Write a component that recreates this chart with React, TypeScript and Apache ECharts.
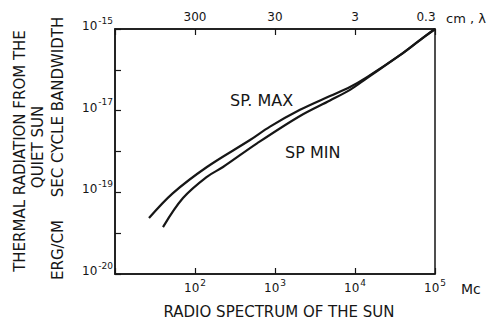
import React, { useEffect, useRef } from "react";
import * as echarts from "echarts";

// Frequency in Mc, thermal radiation in erg/cm^2 sec cycle bandwidth
const maxFreq = [26.6, 53, 141, 487, 866, 2053, 4870, 8660, 14125, 36500, 63000, 100000];
const maxFlux = [2.34e-20, 9.55e-20, 4.17e-19, 1.91e-18, 4.07e-18, 1.05e-17, 2.29e-17, 3.8e-17, 6.61e-17, 2.29e-16, 5.13e-16, 1e-15];

const minFreq = [39.8, 70.8, 141, 224, 596, 2053, 4870, 8660, 14125, 36500, 63000, 100000];
const minFlux = [1.41e-20, 7.24e-20, 2.4e-19, 4.17e-19, 1.58e-18, 7.41e-18, 1.78e-17, 3.24e-17, 6.3e-17, 2.29e-16, 5.13e-16, 1e-15];

const bottomTicks = [100, 1000, 10000, 100000];
const topTickLabels: Record<number, string> = { 100: "300", 1000: "30", 10000: "3", 100000: "0.3" };
const yLabelExps: Record<number, string> = { [-15]: "-15", [-17]: "-17", [-19]: "-19", [-21]: "-20" };

// plotting unit for the y axis (keeps ECharts' log ticks away from float rounding)
const Y_UNIT = 1e-20;

const FONT = "DejaVu Sans";
const INK = "#161616";

export default function App() {
  const ref = useRef<HTMLDivElement>(null);
  useEffect(() => {
    if (!ref.current) return;
    const chart = echarts.init(ref.current, undefined, { renderer: "svg" });
    const sup = {
      b: { fontSize: 12, fontFamily: FONT, color: INK, lineHeight: 12, verticalAlign: "bottom" },
      s: { fontSize: 9, fontFamily: FONT, color: INK, lineHeight: 9, verticalAlign: "bottom", padding: [0, 0, 7, 1] },
    };
    const yExp = (v: number) => Math.round(Math.log10(v) + Math.log10(Y_UNIT));
    chart.setOption({
      animation: false,
      backgroundColor: "#ffffff",
      grid: {
        left: 115,
        top: 29,
        width: 320,
        height: 245,
        containLabel: false,
        outerBoundsMode: "none",
        show: true,
        borderColor: INK,
        borderWidth: 1.5,
      },
      xAxis: [
        {
          type: "log",
          logBase: 10,
          min: 10,
          max: 100000,
          position: "bottom",
          axisLine: { lineStyle: { color: INK, width: 1.5 } },
          axisTick: { inside: true, length: 6, lineStyle: { color: INK, width: 1.2 } },
          splitLine: { show: false },
          axisLabel: {
            margin: 8,
            formatter: (v: number) => {
              const e = Math.round(Math.log10(v));
              if (!bottomTicks.includes(Math.round(Math.pow(10, e)))) return "";
              return `{b|10}{s|${e}}`;
            },
            rich: sup,
          },
        },
        {
          type: "log",
          logBase: 10,
          min: 10,
          max: 100000,
          position: "top",
          axisLine: { lineStyle: { color: INK, width: 1.5 } },
          axisTick: { inside: true, length: 6, lineStyle: { color: INK, width: 1.2 } },
          splitLine: { show: false },
          axisLabel: {
            margin: 6,
            fontSize: 12,
            fontFamily: FONT,
            color: INK,
            formatter: (v: number) => {
              const t = topTickLabels[Math.round(v)] ?? "";
              return Math.round(v) === 100000 ? `{e|${t}}` : t;
            },
            rich: { e: { fontSize: 12, fontFamily: FONT, color: INK, padding: [0, 18, 0, 0] } },
          },
        },
      ],
      yAxis: [
        {
          type: "log",
          logBase: 10,
          min: 1e-21 / Y_UNIT,
          max: 1e-15 / Y_UNIT,
          axisLine: { lineStyle: { color: INK, width: 1.5 } },
          axisTick: { inside: true, length: 6, lineStyle: { color: INK, width: 1.2 } },
          splitLine: { show: false },
          axisLabel: {
            margin: 2,
            padding: [0, 0, 6, 0],
            formatter: (v: number) => {
              const t = yLabelExps[yExp(v)];
              return t ? `{b|10}{s|${t}}` : "";
            },
            rich: sup,
          },
        },
      ],
      series: [
        {
          name: "SP. MAX",
          type: "line",
          smooth: 0.35,
          symbol: "none",
          lineStyle: { color: INK, width: 2.2 },
          data: maxFreq.map((f, i) => [f, maxFlux[i] / Y_UNIT]),
        },
        {
          name: "SP MIN",
          type: "line",
          smooth: 0.35,
          symbol: "none",
          lineStyle: { color: INK, width: 2.2 },
          data: minFreq.map((f, i) => [f, minFlux[i] / Y_UNIT]),
        },
      ],
      graphic: [
        { type: "text", left: 230, top: 92, style: { text: "SP. MAX", font: `16px "${FONT}"`, fill: INK } },
        { type: "text", left: 285, top: 144, style: { text: "SP MIN", font: `16px "${FONT}"`, fill: INK } },
        { type: "text", left: 446, top: 12, style: { text: "cm , λ", font: `13px "${FONT}"`, fill: INK } },
        { type: "text", left: 461, top: 282, style: { text: "Mc", font: `14px "${FONT}"`, fill: INK } },
        {
          type: "text",
          x: 279,
          y: 312,
          style: { text: "RADIO SPECTRUM OF THE SUN", font: `15px "${FONT}"`, fill: INK, align: "center", verticalAlign: "middle" },
        },
        {
          type: "text",
          x: 20,
          y: 151,
          rotation: Math.PI / 2,
          style: { text: "THERMAL RADIATION FROM THE", font: `15px "${FONT}"`, fill: INK, align: "center", verticalAlign: "middle" },
        },
        {
          type: "text",
          x: 38,
          y: 147,
          rotation: Math.PI / 2,
          style: { text: "QUIET SUN", font: `15px "${FONT}"`, fill: INK, align: "center", verticalAlign: "middle" },
        },
        {
          type: "text",
          x: 58,
          y: 250,
          rotation: Math.PI / 2,
          style: { text: "ERG/CM", font: `15px "${FONT}"`, fill: INK, align: "center", verticalAlign: "middle" },
        },
        {
          type: "text",
          x: 58,
          y: 107,
          rotation: Math.PI / 2,
          style: { text: "SEC CYCLE BANDWIDTH", font: `15px "${FONT}"`, fill: INK, align: "center", verticalAlign: "middle" },
        },
      ],
    });
    return () => chart.dispose();
  }, []);
  return <div ref={ref} style={{ position: "fixed", left: 0, top: 0, width: 495, height: 324, background: "#fff" }} />;
}
